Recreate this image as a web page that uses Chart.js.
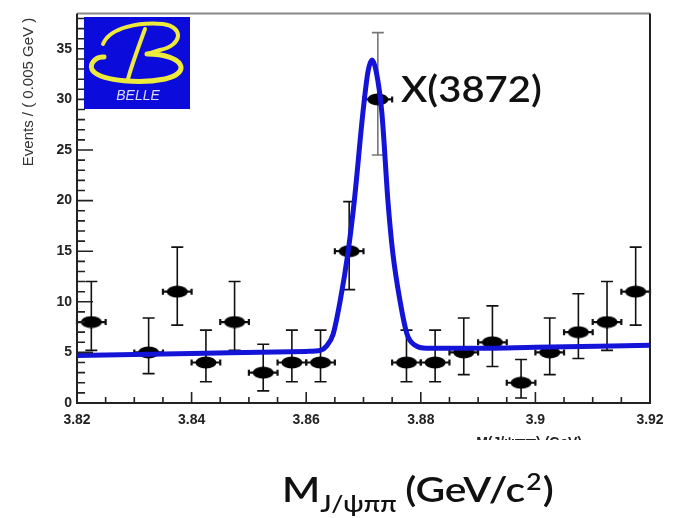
<!DOCTYPE html>
<html>
<head>
<meta charset="utf-8">
<script src="https://cdn.jsdelivr.net/npm/chart.js@4.4.1/dist/chart.umd.min.js"></script>
<style>
html,body{margin:0;padding:0;background:#fff;}
</style>
</head>
<body>
<canvas id="chart" width="689" height="518"></canvas>
<script>
/*///////////////////////////////////////////////////////////
資料 (bins of 0.005 GeV)
///////////////////////////////////////////////////////////*/
var binCenters = [3.8225, 3.8275, 3.8325, 3.8375, 3.8425, 3.8475, 3.8525, 3.8575, 3.8625, 3.8675,
                  3.8725, 3.8775, 3.8825, 3.8875, 3.8925, 3.8975, 3.9025, 3.9075, 3.9125, 3.9175];
var events   = [8, null, 5, 11, 4, 8, 3, 4, 4, 15, 30, 4, 4, 5, 6, 2, 5, 7, 8, 11];
var errLow   = [5.2, null, 2.9, 7.7, 2.1, 5.2, 1.2, 2.1, 2.1, 11.2, 24.5, 2.1, 2.1, 2.8, 3.6, 0.5, 2.8, 4.4, 5.2, 7.7];
var errHigh  = [12, null, 8.4, 15.4, 7.2, 12, 5.8, 7.2, 7.2, 19.9, 36.6, 7.2, 7.2, 8.4, 9.6, 4.3, 8.4, 10.8, 12, 15.4];
var binHalf = 0.0025;

// fit curve
var fitMass   = [3.82, 3.84, 3.86, 3.8625, 3.8635, 3.8647, 3.8659, 3.8673, 3.8684, 3.8699, 3.8708, 3.8715,
                 3.8722, 3.8732, 3.8743, 3.8751, 3.8764, 3.8776, 3.879, 3.881, 3.8875, 3.9, 3.92];
var fitEvents = [4.7, 4.9, 5.1, 5.2, 5.6, 6.8, 10.0, 14.9, 20.0, 28.7, 32.8, 33.9,
                 32.8, 28.7, 19.7, 14.9, 10.0, 6.8, 5.7, 5.4, 5.4, 5.5, 5.7];

var xTicks = [3.82, 3.84, 3.86, 3.88, 3.9, 3.92];
var yTicks = [0, 5, 10, 15, 20, 25, 30, 35];
var xMinorStep = 0.005;
var yMinorStep = 1;

/*///////////////////////////////////////////////////////////
marker
///////////////////////////////////////////////////////////*/
var dot = document.createElement('canvas');
dot.width = 22; dot.height = 13;
(function () {
    var c = dot.getContext('2d');
    c.fillStyle = '#000';
    c.beginPath();
    c.ellipse(11, 6.5, 10.5, 6, 0, 0, Math.PI * 2);
    c.fill();
})();

var points = binCenters.map(function (m, i) { return {x: m, y: events[i]}; });
var fit = fitMass.map(function (m, i) { return {x: m, y: fitEvents[i]}; });

var boldFont = "'Liberation Sans', Arial, sans-serif";
var textFont = "Lato, 'Open Sans', sans-serif";

/*///////////////////////////////////////////////////////////
error bars
///////////////////////////////////////////////////////////*/
var errorBars = {
    id: 'errorBars',
    beforeDatasetsDraw: function (chart) {
        var ctx = chart.ctx, xs = chart.scales.x, ys = chart.scales.y;
        ctx.save();
        binCenters.forEach(function (m, i) {
            if (events[i] == null) return;
            var px = xs.getPixelForValue(m);
            var py = ys.getPixelForValue(events[i]);
            var lo = ys.getPixelForValue(errLow[i]);
            var hi = ys.getPixelForValue(errHigh[i]);
            var l = xs.getPixelForValue(m - binHalf), r = xs.getPixelForValue(m + binHalf);
            ctx.lineWidth = 1.6;
            ctx.strokeStyle = i === 10 ? '#777' : '#111';
            ctx.beginPath();
            ctx.moveTo(px, lo); ctx.lineTo(px, hi);
            ctx.moveTo(px - 6, lo); ctx.lineTo(px + 6, lo);
            ctx.moveTo(px - 6, hi); ctx.lineTo(px + 6, hi);
            ctx.stroke();
            ctx.strokeStyle = '#111';
            ctx.lineWidth = 2.2;
            ctx.beginPath();
            ctx.moveTo(l, py); ctx.lineTo(r, py);
            ctx.moveTo(l, py - 3); ctx.lineTo(l, py + 3);
            ctx.moveTo(r, py - 3); ctx.lineTo(r, py + 3);
            ctx.stroke();
        });
        ctx.restore();
    }
};

/*///////////////////////////////////////////////////////////
Belle logo
///////////////////////////////////////////////////////////*/
function drawLogo(ctx) {
    ctx.save();
    ctx.fillStyle = '#0b0bdc';
    ctx.fillRect(84, 17, 106, 92);
    ctx.strokeStyle = '#eeea3c';
    ctx.lineCap = 'round';
    // upper loop
    ctx.lineWidth = 4;
    ctx.beginPath();
    ctx.moveTo(103, 44);
    ctx.bezierCurveTo(110, 27, 140, 22, 163, 24);
    ctx.bezierCurveTo(184, 27, 183, 45, 160, 50);
    ctx.bezierCurveTo(154, 52, 150, 53, 147, 54);
    ctx.stroke();
    // lower bowl
    ctx.lineWidth = 5;
    ctx.beginPath();
    ctx.moveTo(147, 54);
    ctx.bezierCurveTo(184, 54, 192, 73, 165, 79);
    ctx.bezierCurveTo(140, 84, 104, 81, 94, 72);
    ctx.bezierCurveTo(87, 66, 95, 56, 104, 57);
    ctx.stroke();
    // stem
    ctx.lineWidth = 4;
    ctx.beginPath();
    ctx.moveTo(145, 29);
    ctx.bezierCurveTo(138, 48, 132, 64, 128, 79);
    ctx.stroke();
    // BELLE
    ctx.fillStyle = '#dcdcf4';
    ctx.font = "italic 14px " + boldFont;
    ctx.textAlign = 'center';
    ctx.textBaseline = 'middle';
    ctx.fillText('BELLE', 138, 96);
    ctx.restore();
}

/*///////////////////////////////////////////////////////////
frame, ticks, texts
///////////////////////////////////////////////////////////*/
var frame = {
    id: 'frame',
    afterDraw: function (chart) {
        var ctx = chart.ctx, a = chart.chartArea, xs = chart.scales.x, ys = chart.scales.y;
        ctx.save();
        // borders
        ctx.lineWidth = 2;
        ctx.strokeStyle = '#888';
        ctx.beginPath(); ctx.moveTo(a.left, a.top); ctx.lineTo(a.right, a.top); ctx.stroke();
        ctx.strokeStyle = '#222';
        ctx.beginPath();
        ctx.moveTo(a.right, a.top); ctx.lineTo(a.right, a.bottom);
        ctx.moveTo(a.left - 1, a.bottom); ctx.lineTo(a.right + 1, a.bottom);
        ctx.moveTo(a.left, a.top); ctx.lineTo(a.left, a.bottom + 1);
        ctx.stroke();

        // minor / major ticks
        ctx.lineWidth = 1.6;
        ctx.beginPath();
        for (var v = 0; v <= ys.max; v += yMinorStep) {
            var py = ys.getPixelForValue(v);
            var len = (v % 5 === 0) ? 16 : 8;
            ctx.moveTo(a.left, py); ctx.lineTo(a.left + len, py);
        }
        for (var k = 0; k <= 20; k++) {
            var px = xs.getPixelForValue(xs.min + k * xMinorStep);
            var len2 = (k % 4 === 0) ? 11 : 6;
            ctx.moveTo(px, a.bottom); ctx.lineTo(px, a.bottom - len2);
        }
        ctx.stroke();

        // y axis title
        ctx.save();
        ctx.translate(29, 92);
        ctx.rotate(-Math.PI / 2);
        ctx.fillStyle = '#333';
        ctx.font = "15px " + boldFont;
        ctx.textAlign = 'center';
        ctx.textBaseline = 'middle';
        ctx.fillText('Events / ( 0.005 GeV )', 0, 0);
        ctx.restore();

        // clipped ROOT x title
        ctx.save();
        ctx.beginPath(); ctx.rect(400, 428, 250, 12); ctx.clip();
        ctx.fillStyle = '#222';
        ctx.font = "bold 14px " + boldFont;
        ctx.textAlign = 'right';
        ctx.fillText('M(J/\u03c8\u03c0\u03c0) (GeV)', 582, 447);
        ctx.restore();

        // X(3872)
        ctx.save();
        ctx.translate(401, 102);
        ctx.scale(1.08, 1);
        ctx.fillStyle = '#111';
        ctx.font = "600 37px " + textFont;
        ctx.textAlign = 'left';
        ctx.fillText('X(3872)', 0, 0);
        ctx.restore();

        // big title (picture is stretched sideways)
        ctx.save();
        ctx.translate(282, 502);
        ctx.scale(1.2, 1);
        var x = 0;
        var big = "600 34px " + textFont, small = "600 22px " + textFont;
        ctx.fillStyle = '#111';
        ctx.textAlign = 'left';
        ctx.font = big; ctx.fillText('M', x, 0); x += ctx.measureText('M').width;
        ctx.font = small; ctx.fillText('J/\u03c8\u03c0\u03c0', x, 10); x += ctx.measureText('J/\u03c8\u03c0\u03c0').width + 7;
        ctx.font = big; ctx.fillText('(GeV/c', x, 0); x += ctx.measureText('(GeV/c').width + 1;
        ctx.font = small; ctx.fillText('2', x, -12); x += ctx.measureText('2').width + 1;
        ctx.font = big; ctx.fillText(')', x, 0);
        ctx.restore();

        drawLogo(ctx);
        ctx.restore();
    }
};

/*///////////////////////////////////////////////////////////
chart
///////////////////////////////////////////////////////////*/
new Chart(document.getElementById('chart').getContext('2d'), {
    type: 'scatter',
    data: {
        datasets: [{
            label: 'fit',
            data: fit,
            showLine: true,
            borderColor: '#1414d8',
            borderWidth: 5,
            pointRadius: 0,
            cubicInterpolationMode: 'monotone'
        }, {
            label: 'data',
            data: points,
            pointStyle: dot,
            pointRadius: 10
        }]
    },
    plugins: [errorBars, frame],
    options: {
        responsive: false,
        animation: false,
        layout: {padding: {top: 7, right: 39, left: 0, bottom: 0}},
        plugins: {legend: {display: false}, tooltip: {enabled: false}},
        scales: {
            x: {
                type: 'linear',
                min: 3.82,
                max: 3.92,
                afterFit: function (s) { s.height = 115; },
                afterBuildTicks: function (s) { s.ticks = xTicks.map(function (v) { return {value: v}; }); },
                grid: {display: false, drawTicks: false},
                border: {display: false},
                ticks: {
                    padding: 9,
                    color: '#222',
                    maxRotation: 0,
                    font: {family: boldFont, size: 14, weight: 'bold'},
                    callback: function (v) { return String(parseFloat(v.toFixed(2))); }
                }
            },
            y: {
                min: 0,
                max: 38.5,
                afterFit: function (s) { s.width = 77; },
                afterBuildTicks: function (s) { s.ticks = yTicks.map(function (v) { return {value: v}; }); },
                grid: {display: false, drawTicks: false},
                border: {display: false},
                ticks: {
                    padding: 5,
                    color: '#222',
                    font: {family: boldFont, size: 14, weight: 'bold'}
                }
            }
        }
    }
});
</script>
</body>
</html>
